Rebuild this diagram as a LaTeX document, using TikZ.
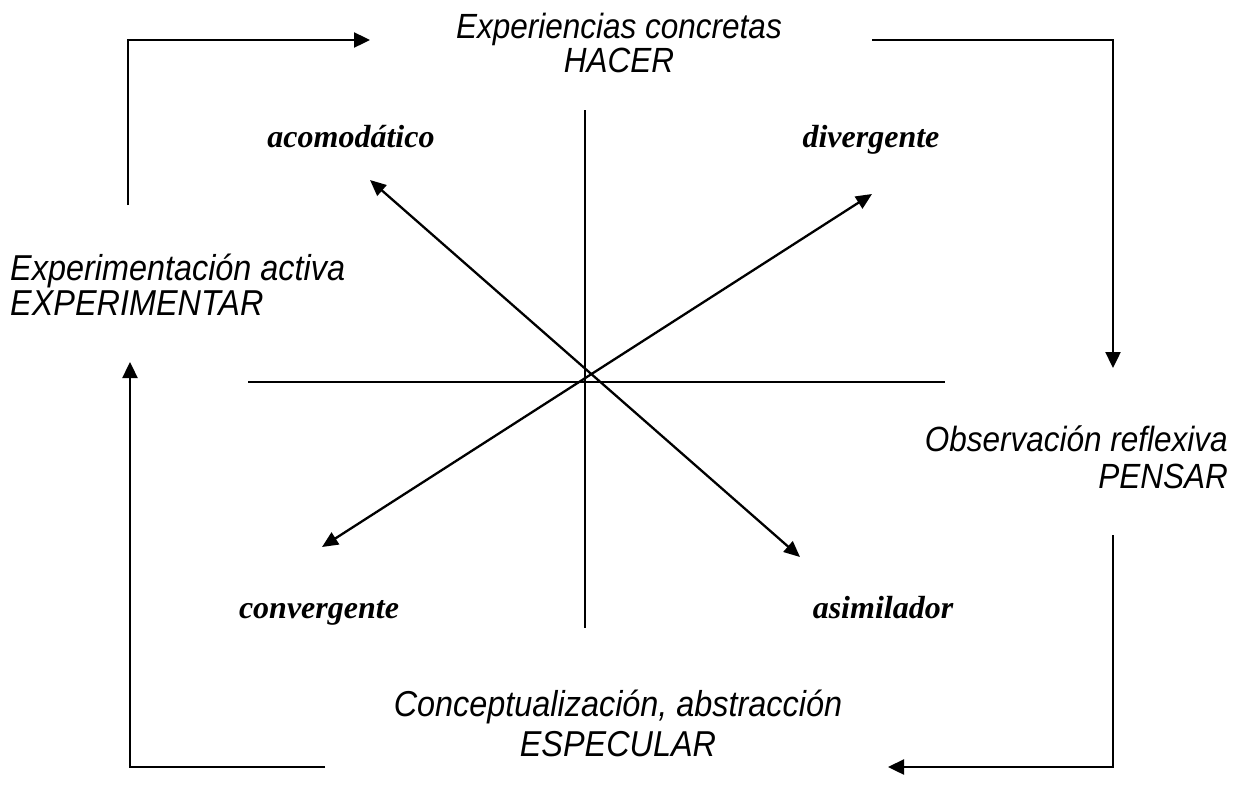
\documentclass[tikz,border=0pt]{standalone}
\usepackage{fontspec}
\usetikzlibrary{arrows.meta}
\newfontfamily\sansit[FakeStretch=0.9]{Liberation Sans}
\newfontfamily\serifbi{Liberation Serif}
\tikzset{
  phase/.style={font=\sansit\itshape\fontsize{35}{34}\selectfont, inner sep=0pt},
  lstyle/.style={font=\serifbi\bfseries\itshape\fontsize{32}{36}\selectfont, inner sep=0pt, anchor=base},
  cyc/.style={line width=2.4pt, -{Triangle[length=16pt,width=15pt]}},
  axisline/.style={line width=1.8pt},
  diag/.style={line width=2.3pt, {Triangle[length=16pt,width=14pt]}-{Triangle[length=16pt,width=14pt]}}
}
\begin{document}
\begin{tikzpicture}[x=1pt,y=-1pt]
\useasboundingbox (0,0) rectangle (1235,796);
\fill[white] (0,0) rectangle (1235,796);
% phase texts (base anchor = baseline of last line)
\node[phase, align=center, anchor=base] (hacer) at (619,72) {Experiencias concretas\\HACER};
\node[phase, align=left, anchor=base west, font=\sansit\itshape\fontsize{36}{35}\selectfont] (exper) at (10,315) {Experimentación activa\\EXPERIMENTAR};
\node[phase, align=right, anchor=base east, font=\sansit\itshape\fontsize{35}{37}\selectfont] (pensar) at (1228,488) {Observación reflexiva\\PENSAR};
\node[phase, align=center, anchor=base, font=\sansit\itshape\fontsize{36}{40}\selectfont] (espec) at (618,756) {Conceptualización, abstracción\\ESPECULAR};
% style labels
\node[lstyle] (acom) at (351,147) {acomodático};
\node[lstyle] (div) at (871,147) {divergente};
\node[lstyle] (conv) at (319,618) {convergente};
\node[lstyle] (asim) at (883,618) {asimilador};
% coordinates
\coordinate (tl1) at (128,205);
\coordinate (tl2) at (370,40);
\coordinate (tr1) at (872,40);
\coordinate (tr2) at (1113,368);
\coordinate (br1) at (1113,535);
\coordinate (br2) at (888,767);
\coordinate (bl1) at (325,767);
\coordinate (bl2) at (130,362);
\coordinate (vt) at (585,110);
\coordinate (vb) at (585,628);
\coordinate (hl) at (248,382);
\coordinate (hr) at (945,382);
\coordinate (dA) at (370,180);
\coordinate (dB) at (800,557);
\coordinate (dC) at (322,547);
\coordinate (dD) at (872,194);
% cycle arrows
\draw[cyc] (tl1) |- (tl2);
\draw[cyc] (tr1) -| (tr2);
\draw[cyc] (br1) |- (br2);
\draw[cyc] (bl1) -| (bl2);
% axes
\draw[axisline] (vt) -- (vb);
\draw[axisline] (hl) -- (hr);
% diagonals
\draw[diag] (dA) -- (dB);
\draw[diag] (dC) -- (dD);
\end{tikzpicture}
\end{document}
